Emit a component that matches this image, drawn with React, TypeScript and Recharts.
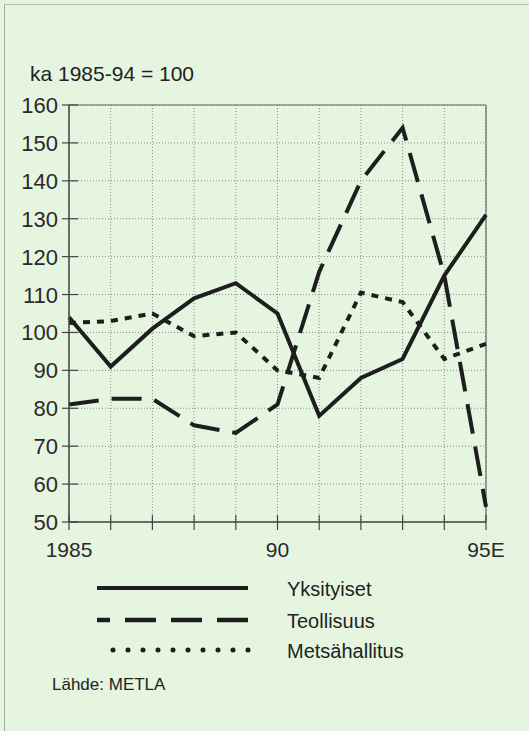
import React from 'react';
import { LineChart, Line, XAxis, YAxis, CartesianGrid, ReferenceLine, Legend } from 'recharts';

const years = [1985, 1986, 1987, 1988, 1989, 1990, 1991, 1992, 1993, 1994, 1995];
const yksityiset = [104, 91, 101, 109, 113, 105, 78, 88, 93, 115, 131];
const teollisuus = [81, 82.5, 82.5, 75.5, 73.5, 81, 116, 140, 154, 115, 54];
const metsahallitus = [102.5, 103, 105, 99, 100, 90, 88, 110.5, 108, 93, 97];
const yTicks = [50, 60, 70, 80, 90, 100, 110, 120, 130, 140, 150, 160];
const xTickLabels: Record<number, string> = { 1985: '1985', 1990: '90', 1995: '95E' };
const seriesKeys = ['yks', 'teo', 'met'];
const seriesNames = ['Yksityiset', 'Teollisuus', 'Metsähallitus'];
const title = 'ka 1985-94 = 100';
const source = 'Lähde: METLA';

const data = years.map((year, i) => ({
  year,
  yks: yksityiset[i],
  teo: teollisuus[i],
  met: metsahallitus[i],
}));

const FONT = '"Liberation Sans", Arial, Helvetica, sans-serif';
const INK = '#1e1e1e';
const AXIS = '#444';

const XTick = (props: any) => {
  const { x, y, payload } = props;
  const label = xTickLabels[payload.value] ?? '';
  return (
    <g>
      <line x1={x} x2={x} y1={y - 7} y2={y + 8} stroke={AXIS} strokeWidth={1.2} />
      {label ? (
        <text x={x} y={y + 35} textAnchor="middle" fontSize={21} fill="#2a2a2a" fontFamily={FONT}>
          {label}
        </text>
      ) : null}
    </g>
  );
};

const YTick = (props: any) => {
  const { x, y, payload } = props;
  return (
    <g>
      <line x1={x - 7} x2={x + 9} y1={y} y2={y} stroke={AXIS} strokeWidth={1.2} />
      <text x={x - 11} y={y + 8} textAnchor="end" fontSize={22} fill="#2a2a2a" fontFamily={FONT}>
        {payload.value}
      </text>
    </g>
  );
};

const legendStyles: Record<string, { y: number; x1: number; dash?: string; cap: string; w: number }> = {
  yks: { y: 28, x1: 97, dash: undefined, cap: 'butt', w: 4 },
  teo: { y: 60, x1: 97, dash: '31 15', cap: 'butt', w: 4.5 },
  met: { y: 90, x1: 110, dash: '0 15', cap: 'round', w: 5 },
};

const renderLegend = (props: any) => {
  const payload = [...(props.payload || [])].sort(
    (a: any, b: any) => seriesKeys.indexOf(a.dataKey) - seriesKeys.indexOf(b.dataKey)
  );
  return (
    <svg width={529} height={110} style={{ display: 'block' }}>
      {payload.map((entry: any) => {
        const s = legendStyles[entry.dataKey];
        if (!s) return null;
        return (
          <g key={entry.dataKey}>
            <line
              x1={248}
              x2={s.x1}
              y1={s.y}
              y2={s.y}
              stroke={INK}
              strokeWidth={s.w}
              strokeDasharray={s.dash}
              strokeLinecap={s.cap as any}
            />
            <text x={287} y={s.y + 8} fontSize={20} fill="#222" fontFamily={FONT}>
              {entry.value}
            </text>
          </g>
        );
      })}
    </svg>
  );
};

export default function App() {
  return (
    <div
      style={{
        position: 'absolute',
        left: 0,
        top: 0,
        width: 529,
        height: 731,
        background: '#e5f5e0',
        overflow: 'hidden',
        fontFamily: FONT,
      }}
    >
      <div
        style={{
          position: 'absolute',
          left: 4,
          top: 4,
          width: 540,
          height: 740,
          borderLeft: '1px solid #a8a8a8',
          borderTop: '1px solid #b8b8b8',
        }}
      />
      <div
        style={{
          position: 'absolute',
          left: 30,
          top: 62,
          fontSize: 21,
          lineHeight: '24px',
          color: '#222',
          whiteSpace: 'nowrap',
        }}
      >
        {title}
      </div>
      <div
        style={{
          position: 'absolute',
          left: 52,
          top: 675,
          fontSize: 17,
          lineHeight: '20px',
          color: '#222',
          whiteSpace: 'nowrap',
        }}
      >
        {source}
      </div>
      <div style={{ position: 'absolute', left: 0, top: 0 }}>
        <LineChart
          width={529}
          height={731}
          data={data}
          margin={{ top: 105, right: 43, bottom: 179, left: 9 }}
        >
          <CartesianGrid stroke="#8c8c8c" strokeDasharray="1 2" strokeWidth={1} />
          <XAxis
            dataKey="year"
            type="number"
            domain={[1985, 1995]}
            ticks={years}
            interval={0}
            height={30}
            tickSize={0}
            tickMargin={0}
            tickLine={false}
            axisLine={{ stroke: AXIS, strokeWidth: 1.5 }}
            tick={<XTick />}
          />
          <YAxis
            type="number"
            domain={[50, 160]}
            ticks={yTicks}
            interval={0}
            width={60}
            tickSize={0}
            tickMargin={0}
            tickLine={false}
            axisLine={{ stroke: AXIS, strokeWidth: 1.5 }}
            tick={<YTick />}
          />
          <ReferenceLine y={160} stroke="#666" strokeWidth={1.2} />
          <ReferenceLine x={1995} stroke="#666" strokeWidth={1.2} />
          <Legend
            layout="horizontal"
            verticalAlign="middle"
            align="center"
            content={renderLegend}
            wrapperStyle={{ position: 'absolute', left: 0, top: 560, width: 529, height: 110 }}
          />
          <Line
            type="linear"
            dataKey="yks"
            name={seriesNames[0]}
            stroke={INK}
            strokeWidth={4}
            dot={false}
            isAnimationActive={false}
          />
          <Line
            type="linear"
            dataKey="teo"
            name={seriesNames[1]}
            stroke={INK}
            strokeWidth={4}
            strokeDasharray="30 13"
            dot={false}
            isAnimationActive={false}
          />
          <Line
            type="linear"
            dataKey="met"
            name={seriesNames[2]}
            stroke={INK}
            strokeWidth={4}
            strokeDasharray="7 7"
            dot={false}
            isAnimationActive={false}
          />
        </LineChart>
      </div>
    </div>
  );
}
